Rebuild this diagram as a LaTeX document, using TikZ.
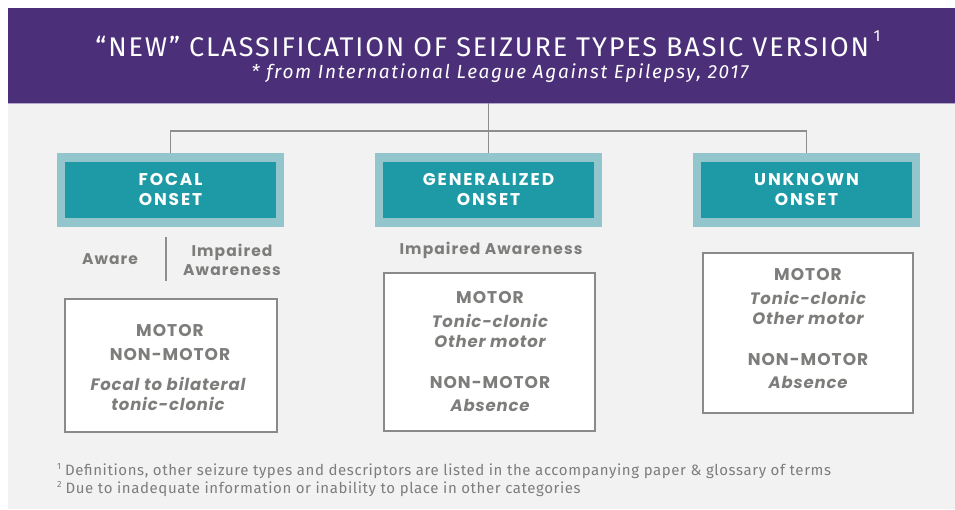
\documentclass[tikz,border=0pt]{standalone}
\usepackage{fontspec}
\setmainfont{Poppins}
\newfontfamily\titlefont{Fira Sans}
\newfontfamily\notefont{Fira Sans}
\definecolor{purp}{HTML}{4B3079}
\definecolor{purpline}{HTML}{B3A6CB}
\definecolor{bg}{HTML}{F2F2F2}
\definecolor{teal}{HTML}{1E9AA6}
\definecolor{teallight}{HTML}{93C5CD}
\definecolor{txtgray}{HTML}{7D7D7B}
\definecolor{boxgray}{HTML}{8A8A88}
\definecolor{linegray}{HTML}{8E8E8E}
\tikzset{
  onset/.style={fill=teal, draw=teallight, line width=8.5pt, minimum width=219pt, minimum height=65pt,
    text=white, align=center, font=\fontsize{17}{20}\selectfont\bfseries\addfontfeatures{LetterSpace=11}},
  typebox/.style={fill=white, draw=boxgray, line width=2pt, anchor=north west, inner sep=0pt},
  graytxt/.style={text=txtgray, align=center, inner sep=0pt},
  head/.style={graytxt, font=\fontsize{17}{19}\selectfont\bfseries\addfontfeatures{LetterSpace=6}},
  ital/.style={graytxt, font=\fontsize{16.5}{20.5}\selectfont\bfseries\itshape\addfontfeatures{LetterSpace=5}},
  aw/.style={graytxt, font=\fontsize{15.5}{19.5}\selectfont\bfseries\addfontfeatures{LetterSpace=7}},
  conn/.style={draw=linegray, line width=1.5pt},
  note/.style={text=txtgray, anchor=west, inner sep=0pt, font=\notefont\fontsize{15}{16}\selectfont\addfontfeatures{LetterSpace=4}}
}
\begin{document}
\begin{tikzpicture}[x=1pt,y=-1pt]
\useasboundingbox (0,0) rectangle (955,509);
\fill[white] (0,0) rectangle (955,509);
\fill[bg] (8,103) rectangle (955,509);
\node[fill=purp, anchor=north west, minimum width=947pt, minimum height=95pt, inner sep=0pt, outer sep=0pt] (banner) at (8,8) {};
\draw[purpline, line width=1.5pt] (8,103.5) -- (955,103.5);
\node[text=white, inner sep=0pt, font=\titlefont\fontsize{27}{29}\selectfont\addfontfeatures{LetterSpace=7}] (title) at (488,44)
  {“NEW” CLASSIFICATION OF SEIZURE TYPES BASIC VERSION\,\raisebox{0.55em}{\fontsize{16}{16}\selectfont 1}};
\node[text=white, inner sep=0pt, font=\titlefont\itshape\fontsize{19}{21}\selectfont\addfontfeatures{LetterSpace=8.8}] (subtitle) at (500,73)
  {* from International League Against Epilepsy, 2017};

\node[onset] (focal) at (170.5,190) {FOCAL\\ONSET};
\node[onset] (gen) at (488.5,190) {GENERALIZED\\ONSET};
\node[onset] (unk) at (806.5,190) {UNKNOWN\\ONSET};

\coordinate (j) at (488.5,131);
\draw[conn] (banner.south -| j) -- (gen.north);
\draw[conn] (focal.north) |- (j) -| (unk.north);

\node[aw] (aware) at (110,259) {Aware};
\node[aw] (impf) at (232,260) {Impaired\\Awareness};
\coordinate (d1) at (166,237);
\coordinate (d2) at (166,281);
\draw[conn] (d1) -- (d2);
\node[aw] (impg) at (491,250) {Impaired Awareness};

\node[typebox, minimum width=212pt, minimum height=133pt] (fbox) at (64,298) {};
\node[head] (f1) at (170,330) {MOTOR};
\node[head] (f2) at (170,355) {NON-MOTOR};
\node[ital] (f3) at (168,394) {Focal to bilateral\\tonic-clonic};

\node[typebox, minimum width=211pt, minimum height=158pt] (gbox) at (383,272) {};
\node[head] (g1) at (490,298) {MOTOR};
\node[ital] (g2) at (490,331) {Tonic-clonic\\Other motor};
\node[head] (g3) at (490,382) {NON-MOTOR};
\node[ital] (g4) at (490,405) {Absence};

\node[typebox, minimum width=210pt, minimum height=160pt] (ubox) at (702,252) {};
\node[head] (u1) at (808,275) {MOTOR};
\node[ital] (u2) at (808,308) {Tonic-clonic\\Other motor};
\node[head] (u3) at (808,359) {NON-MOTOR};
\node[ital] (u4) at (808,382) {Absence};

\node[note] (n1) at (57,471) {\raisebox{0.4em}{\fontsize{9}{9}\selectfont 1}\hspace{4pt}Definitions, other seizure types and descriptors are listed in the accompanying paper \& glossary of terms};
\node[note] (n2) at (57,489) {\raisebox{0.4em}{\fontsize{9}{9}\selectfont 2}\hspace{4pt}Due to inadequate information or inability to place in other categories};
\end{tikzpicture}
\end{document}
